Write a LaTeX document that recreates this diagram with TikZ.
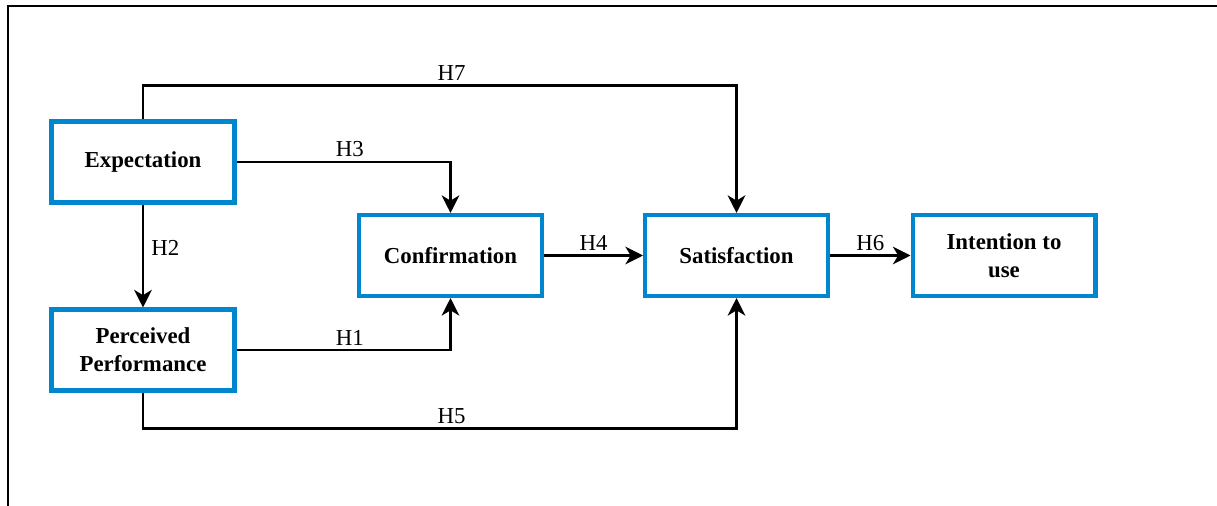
\documentclass[tikz,border=0pt]{standalone}
\usepackage{fontspec}
\setmainfont{Liberation Serif}
\usepackage{tikz}
\usetikzlibrary{arrows.meta,positioning}

\definecolor{boxblue}{RGB}{0,134,206}

\begin{document}
\begin{tikzpicture}[
    x=0.02cm, y=-0.02cm,
    box/.style={rectangle, draw=boxblue, line width=2.3pt, fill=white, minimum width=3.66cm, minimum height=1.62cm, align=center, font=\fontsize{13}{16}\selectfont\bfseries},
    arrow/.style={-{Stealth[length=10pt, width=10pt, inset=3pt]}, line width=1.6pt},
    hyp/.style={font=\fontsize{13}{16}\selectfont, inner sep=2pt},
    frame/.style={line width=1.1pt}
]
\useasboundingbox (0,0) rectangle (1217,506);

% Outer frame (open at the right and bottom)
\draw[frame] (1217,6) -- (8,6) -- (8,506);

% Constructs
\node[box] (expect) at (143,162) {Expectation};
\node[box] (perf) at (143,350) {Perceived\\Performance};
\node[box] (confirm) at (450.5,255.5) {Confirmation};
\node[box] (satisf) at (736.5,255.5) {Satisfaction};
\node[box] (intent) at (1004,255.5) {Intention to\\use};

% Hypotheses
\draw[arrow] (perf.east) -| (confirm.south) node[hyp, pos=0.265, above] {H1};
\draw[arrow] (expect) -- (perf) node[hyp, pos=0.42, right=2pt] {H2};
\draw[arrow] (expect.east) -| (confirm.north) node[hyp, pos=0.265, above] {H3};
\draw[arrow] (confirm) -- (satisf) node[hyp, midway, above] {H4};
\draw[arrow] (perf.south) -- ++(0,36) -| (satisf.south) node[hyp, pos=0.26, above] {H5};
\draw[arrow] (satisf) -- (intent) node[hyp, midway, above] {H6};
\draw[arrow] (expect.north) -- ++(0,-34) -| (satisf.north) node[hyp, pos=0.26, above] {H7};

\end{tikzpicture}
\end{document}
